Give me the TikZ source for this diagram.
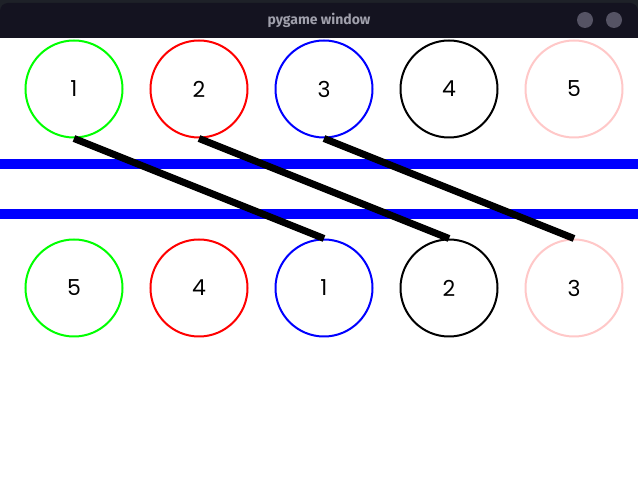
\documentclass[tikz,border=0pt]{standalone}
\usepackage{fontspec}
\setmainfont{Poppins}
\newfontfamily\barfont{Fira Sans}
\definecolor{stripbg}{RGB}{30,33,40}
\definecolor{barbg}{RGB}{20,19,32}
\definecolor{bartext}{RGB}{160,160,172}
\definecolor{barbtn}{RGB}{85,83,100}
\definecolor{pinkish}{RGB}{255,200,200}
\definecolor{pgblue}{RGB}{0,0,255}
\definecolor{pggreen}{RGB}{0,255,0}
\definecolor{pgred}{RGB}{255,0,0}
\tikzset{
  ball/.style={draw=#1,circle,line width=2pt,minimum size=97pt,inner sep=0pt,
    font=\fontsize{22}{22}\selectfont},
  rail/.style={pgblue,line width=10pt},
  link/.style={black,line width=7pt}
}

\begin{document}
\begin{tikzpicture}[x=1pt,y=-1pt]
    \useasboundingbox (0,0) rectangle (638,478);
    % window frame
    \fill[stripbg] (0,0) rectangle (638,38);
    \fill[barbg,rounded corners=8pt] (0,3) rectangle (638,60);
    \fill[white] (0,38) rectangle (638,478);
    \node[text=bartext,font=\barfont\bfseries\fontsize{14}{14}\selectfont] (title) at (319,20) {pygame window};
    \fill[barbtn] (585,20) circle (8);
    \fill[barbtn] (614,20) circle (8);
    % rails
    \coordinate (r1w) at (0,164);
    \coordinate (r1e) at (638,164);
    \coordinate (r2w) at (0,214);
    \coordinate (r2e) at (638,214);
    \draw[rail] (r1w) -- (r1e);
    \draw[rail] (r2w) -- (r2e);
    % top row
    \node[ball=pggreen] (t1) at (74,89) {1};
    \node[ball=pgred] (t2) at (199,89) {2};
    \node[ball=pgblue] (t3) at (324,89) {3};
    \node[ball=black] (t4) at (449,89) {4};
    \node[ball=pinkish] (t5) at (574,89) {5};
    % bottom row
    \node[ball=pggreen] (b5) at (74,288) {5};
    \node[ball=pgred] (b4) at (199,288) {4};
    \node[ball=pgblue] (b1) at (324,288) {1};
    \node[ball=black] (b2) at (449,288) {2};
    \node[ball=pinkish] (b3) at (574,288) {3};
    % links
    \foreach \i in {1,2,3}
      \draw[link] (t\i.south) -- (b\i.north);
\end{tikzpicture}
\end{document}
